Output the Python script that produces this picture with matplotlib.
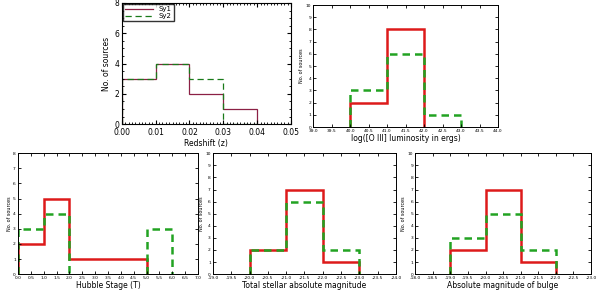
import matplotlib
matplotlib.use('Agg')
import matplotlib.pyplot as plt
import numpy as np

# Redshift panel
z_edges = [0.0, 0.01, 0.02, 0.03, 0.04]
z_sy1 = [3, 4, 2, 1]
z_sy2 = [3, 4, 3, 0]

# [O III] luminosity panel
lo3_edges = [40.0, 41.0, 42.0, 43.0]
lo3_sy1 = [2, 8, np.nan]
lo3_sy2 = [3, 6, 1]

# Hubble stage panel (nan = no sources in bin)
t_edges = [0, 1, 2, 3, 4, 5, 6]
t_sy1 = [2, 5, 1, 1, 1, np.nan]
t_sy2 = [3, 4, np.nan, np.nan, np.nan, 3]

# Total stellar absolute magnitude panel
mtot_edges = [-20.0, -21.0, -22.0, -23.0]
mtot_sy1 = [2, 7, 1]
mtot_sy2 = [2, 6, 2]

# Bulge absolute magnitude panel
mbul_edges = [-19.0, -20.0, -21.0, -22.0]
mbul_sy1 = [2, 7, 1]
mbul_sy2 = [3, 5, 2]

red = '#dd1a1a'
green = '#22a322'

fig = plt.figure(figsize=(6, 2.97), dpi=100)

# top-left panel (different style)
ax1 = fig.add_axes([0.203, 0.582, 0.282, 0.408])
ax1.stairs(z_sy1, z_edges, baseline=0, color='#8b2045', lw=0.9, label='Sy1')
ax1.stairs(z_sy2, z_edges, baseline=0, color='#1a7a1a', lw=0.9, ls=(0, (5, 3)), label='Sy2')
ax1.set_xlim(0, 0.05)
ax1.set_ylim(0, 8)
ax1.set_xticks(np.arange(0, 0.051, 0.01))
ax1.set_xticklabels(['0.00', '0.01', '0.02', '0.03', '0.04', '0.05'])
ax1.set_xticks(np.arange(0, 0.0501, 0.001), minor=True)
ax1.set_yticks([0, 2, 4, 6, 8])
ax1.set_yticks(np.arange(0, 8.01, 0.5), minor=True)
ax1.tick_params(which='both', direction='in', top=True, right=True, labelsize=5.5)
ax1.tick_params(axis='x', pad=3)
ax1.tick_params(axis='y', pad=2)
ax1.tick_params(which='major', length=3)
ax1.tick_params(which='minor', length=1.5)
ax1.set_xlabel('Redshift (z)', fontsize=5.5, labelpad=1)
ax1.set_ylabel('No. of sources', fontsize=5.5, labelpad=2)
ax1.legend(loc='upper left', fontsize=5, frameon=True, fancybox=False, edgecolor='black',
           handlelength=4, borderpad=0.3, labelspacing=0.1, borderaxespad=0.2)

small_axes = [
    ([0.522, 0.572, 0.308, 0.411], lo3_edges, lo3_sy1, lo3_sy2, (39.0, 44.0), 10,
     'log([O III] luminosity in ergs)'),
    ([0.030, 0.077, 0.300, 0.407], t_edges, t_sy1, t_sy2, (0.0, 7.0), 8,
     'Hubble Stage (T)'),
    ([0.355, 0.077, 0.305, 0.407], mtot_edges, mtot_sy1, mtot_sy2, (-19.0, -24.0), 10,
     'Total stellar absolute magnitude'),
    ([0.692, 0.077, 0.293, 0.407], mbul_edges, mbul_sy1, mbul_sy2, (-18.0, -23.0), 10,
     'Absolute magnitude of bulge'),
]

for rect, edges, sy1, sy2, xlim, ymax, xlabel in small_axes:
    ax = fig.add_axes(rect)
    ax.stairs(sy1, edges, baseline=0, color=red, lw=1.8)
    ax.stairs(sy2, edges, baseline=0, color=green, lw=1.8, ls=(0, (3, 2)))
    ax.set_xlim(*xlim)
    ax.set_ylim(0, ymax)
    step = 0.5 if xlim[1] > xlim[0] else -0.5
    ticks = np.arange(xlim[0], xlim[1] + step / 2, step)
    ax.set_xticks(ticks)
    ax.set_xticklabels(['%.1f' % t for t in ticks])
    ax.set_yticks(np.arange(0, ymax + 1))
    ax.tick_params(direction='in', top=True, right=True, labelsize=3.2, length=2.5, pad=1.5, width=0.6)
    for s in ax.spines.values():
        s.set_linewidth(0.7)
    ax.set_xlabel(xlabel, fontsize=5.5, labelpad=0.5)
    ax.set_ylabel('No. of sources', fontsize=3.5, labelpad=1)

plt.savefig('out.png', dpi=100)
plt.close()
